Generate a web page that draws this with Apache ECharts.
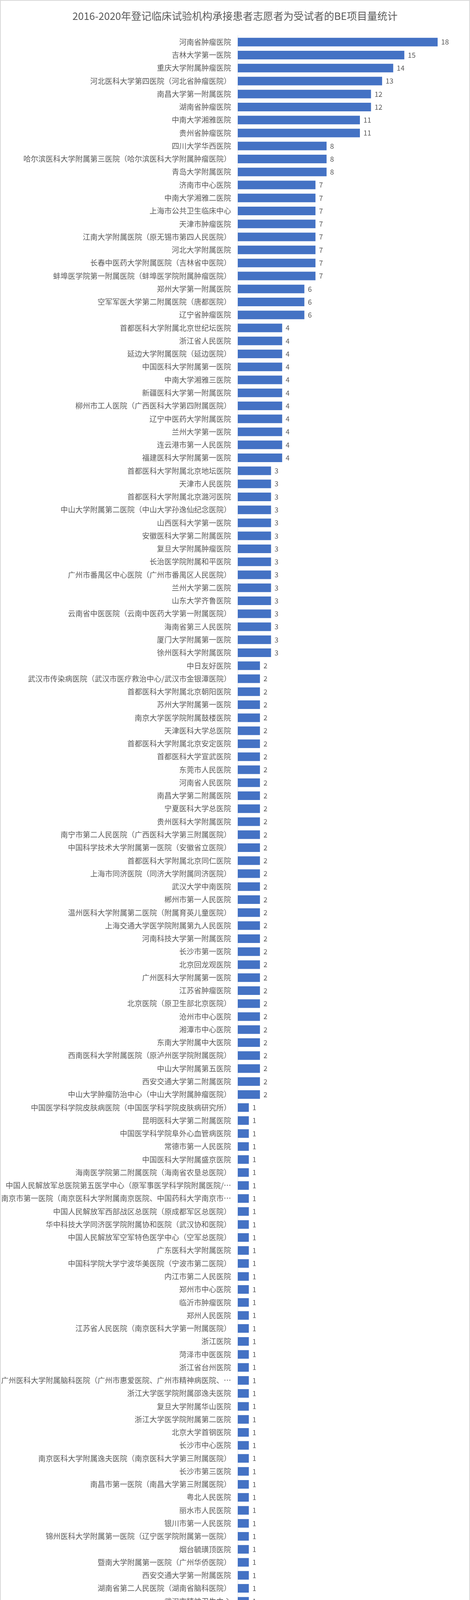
<!DOCTYPE html>
<html>
<head>
<meta charset="utf-8">
<script src="https://cdn.jsdelivr.net/npm/echarts@6/dist/echarts.min.js"></script>
<style>
html,body{margin:0;padding:0;background:#fff;}
#chart{width:1204px;height:6411px;}
</style>
</head>
<body>
<div id="chart"></div>
<script>
const titleText = '2016-2020年登记临床试验机构承接患者志愿者为受试者的BE项目量统计';

const categories = [
'河南省肿瘤医院','吉林大学第一医院','重庆大学附属肿瘤医院','河北医科大学第四医院（河北省肿瘤医院）','南昌大学第一附属医院',
'湖南省肿瘤医院','中南大学湘雅医院','贵州省肿瘤医院','四川大学华西医院','哈尔滨医科大学附属第三医院（哈尔滨医科大学附属肿瘤医院）',
'青岛大学附属医院','济南市中心医院','中南大学湘雅二医院','上海市公共卫生临床中心','天津市肿瘤医院',
'江南大学附属医院（原无锡市第四人民医院）','河北大学附属医院','长春中医药大学附属医院（吉林省中医院）','蚌埠医学院第一附属医院（蚌埠医学院附属肿瘤医院）','郑州大学第一附属医院',
'空军军医大学第二附属医院（唐都医院）','辽宁省肿瘤医院','首都医科大学附属北京世纪坛医院','浙江省人民医院','延边大学附属医院（延边医院）',
'中国医科大学附属第一医院','中南大学湘雅三医院','新疆医科大学第一附属医院','柳州市工人医院（广西医科大学第四附属医院）','辽宁中医药大学附属医院',
'兰州大学第一医院','连云港市第一人民医院','福建医科大学附属第一医院','首都医科大学附属北京地坛医院','天津市人民医院',
'首都医科大学附属北京潞河医院','中山大学附属第二医院（中山大学孙逸仙纪念医院）','山西医科大学第一医院','安徽医科大学第二附属医院','复旦大学附属肿瘤医院',
'长治医学院附属和平医院','广州市番禺区中心医院（广州市番禺区人民医院）','兰州大学第二医院','山东大学齐鲁医院','云南省中医医院（云南中医药大学第一附属医院）',
'海南省第三人民医院','厦门大学附属第一医院','徐州医科大学附属医院','中日友好医院','武汉市传染病医院（武汉市医疗救治中心/武汉市金银潭医院）',
'首都医科大学附属北京朝阳医院','苏州大学附属第一医院','南京大学医学院附属鼓楼医院','天津医科大学总医院','首都医科大学附属北京安定医院',
'首都医科大学宣武医院','东莞市人民医院','河南省人民医院','南昌大学第二附属医院','宁夏医科大学总医院',
'贵州医科大学附属医院','南宁市第二人民医院（广西医科大学第三附属医院）','中国科学技术大学附属第一医院（安徽省立医院）','首都医科大学附属北京同仁医院','上海市同济医院（同济大学附属同济医院）',
'武汉大学中南医院','郴州市第一人民医院','温州医科大学附属第二医院（附属育英儿童医院）','上海交通大学医学院附属第九人民医院','河南科技大学第一附属医院',
'长沙市第一医院','北京回龙观医院','广州医科大学附属第一医院','江苏省肿瘤医院','北京医院（原卫生部北京医院）',
'沧州市中心医院','湘潭市中心医院','东南大学附属中大医院','西南医科大学附属医院（原泸州医学院附属医院）','中山大学附属第五医院',
'西安交通大学第二附属医院','中山大学肿瘤防治中心（中山大学附属肿瘤医院）','中国医学科学院皮肤病医院（中国医学科学院皮肤病研究所）','昆明医科大学第二附属医院','中国医学科学院阜外心血管病医院',
'常德市第一人民医院','中国医科大学附属盛京医院','海南医学院第二附属医院（海南省农垦总医院）','中国人民解放军总医院第五医学中心（原军事医学科学院附属医院/…','南京市第一医院（南京医科大学附属南京医院、中国药科大学南京市…',
'中国人民解放军西部战区总医院（原成都军区总医院）','华中科技大学同济医学院附属协和医院（武汉协和医院）','中国人民解放军空军特色医学中心（空军总医院）','广东医科大学附属医院','中国科学院大学宁波华美医院（宁波市第二医院）',
'内江市第二人民医院','郑州市中心医院','临沂市肿瘤医院','郑州人民医院','江苏省人民医院（南京医科大学第一附属医院）',
'浙江医院','菏泽市中医医院','浙江省台州医院','广州医科大学附属脑科医院（广州市惠爱医院、广州市精神病医院、…','浙江大学医学院附属邵逸夫医院',
'复旦大学附属华山医院','浙江大学医学院附属第二医院','北京大学首钢医院','长沙市中心医院','南京医科大学附属逸夫医院（南京医科大学第三附属医院）',
'长沙市第三医院','南昌市第一医院（南昌大学第三附属医院）','粤北人民医院','丽水市人民医院','银川市第一人民医院',
'锦州医科大学附属第一医院（辽宁医学院附属第一医院）','烟台毓璜顶医院','暨南大学附属第一医院（广州华侨医院）','西安交通大学第一附属医院','湖南省第二人民医院（湖南省脑科医院）',
'武汉市精神卫生中心','河北医科大学第二医院','武汉大学人民医院（湖北省人民医院）','海军军医大学第一附属医院（上海长海医院）','无锡市人民医院',
'广州市红十字会医院','通化市中心医院','赣南医学院第一附属医院','天津医科大学第二医院','东营市人民医院/山东省立医院（集团）东营医院',
'天津市第一中心医院','北京肿瘤医院（北京大学肿瘤医院）','天津市安定医院','北京大学人民医院','泰州市人民医院',
'南宁市第一人民医院','台北荣民总医院','南京医科大学附属淮安第一医院','苏州大学附属第三医院（常州市第一人民医院）','南方医科大学南方医院',
'四川省人民医院','洛阳市中心医院','四川大学华西第二医院','聊城市人民医院','树兰（杭州）医院',
'昆明医科大学第一附属医院','首都医科大学附属北京佑安医院','空军军医大学（第四军医大学）西京医院','首都医科大学附属北京友谊医院','江苏省中西医结合医院',
'首都医科大学附属北京安贞医院','江苏大学附属医院（镇江市江滨医院）','上海长征医院','黄冈市中心医院','上海市杨浦区中心医院（同济大学附属杨浦医院）',
'华中科技大学同济医学院附属同济医院（武汉同济医院）','上海市胸科医院','衡阳华程医院','上海市同仁医院','河北中石油中心医院',
'上海市浦东新区公利医院','河北省人民医院','上海市东方医院（上海市浦东新区东方医院/同济大学附属东方医院）','海南省人民医院','上海交通大学医学院附属新华医院崇明分院',
'国防医学院三军总医院','上海交通大学医学院附属仁济医院','广州医科大学附属第二医院','山西医科大学第二医院','广西壮族自治区肿瘤医院（广西医科大学附属肿瘤医院）',
'山西省人民医院','广东省人民医院','山东省千佛山医院','复旦大学附属中山医院','山东省精神卫生中心',
'福建医科大学附属协和医院','北京大学第三医院','常州市第二人民医院','中山大学附属第一医院','沧州市人民医院',
'齐齐哈尔市第一医院','北京市房山区中医医院','内蒙古自治区人民医院','北京大学深圳医院','内蒙古医科大学附属医院',
'中国医学科学院血液病医院（中国医学科学院血液学研究所）','内蒙古包钢医院','清远市人民医院（广州医科大学附属第六医院）','青岛市市立医院'
];

const values = [
18,15,14,13,12,12,11,11,8,8,
8,7,7,7,7,7,7,7,7,6,
6,6,4,4,4,4,4,4,4,4,
4,4,4,3,3,3,3,3,3,3,
3,3,3,3,3,3,3,3,2,2,
2,2,2,2,2,2,2,2,2,2,
2,2,2,2,2,2,2,2,2,2,
2,2,2,2,2,2,2,2,2,2,
2,2,1,1,1,1,1,1,1,1,
1,1,1,1,1,1,1,1,1,1,
1,1,1,1,1,1,1,1,1,1,
1,1,1,1,1,1,1,1,1,1,
1,1,1,1,1,1,1,1,1,1,
1,1,1,1,1,1,1,1,1,1,
1,1,1,1,1,1,1,1,1,1,
1,1,1,1,1,1,1,1,1,1,
1,1,1,1,1,1,1,1,1,1,
1,1,1,1,1,1,1,1,1,1,
1,1,1,1,1,1,1,1,1
];

const FONT = '"Noto Sans CJK SC", "Noto Sans", sans-serif';
const chart = echarts.init(document.getElementById('chart'), null, {renderer: 'canvas'});
chart.setOption({
  animation: false,
  backgroundColor: '#ffffff',
  title: {
    text: titleText,
    left: 'center',
    top: 23,
    textStyle: {fontSize: 26, fontWeight: 'normal', color: '#595959', fontFamily: FONT}
  },
  graphic: [{
    type: 'rect',
    shape: {x: 1, y: 1, width: 1202, height: 6408},
    style: {fill: 'none', stroke: '#D9D9D9', lineWidth: 2},
    silent: true
  }],
  grid: {left: 598, right: 26, top: 91, bottom: 33, containLabel: false},
  xAxis: {
    type: 'value', min: 0, max: 20,
    axisLine: {show: false}, axisTick: {show: false},
    axisLabel: {show: false}, splitLine: {show: false}
  },
  yAxis: {
    type: 'category',
    data: categories,
    inverse: true,
    axisLine: {show: true, lineStyle: {color: '#D9D9D9', width: 1}},
    axisTick: {show: false},
    axisLabel: {interval: 0, fontSize: 19, color: '#595959', margin: 17, fontFamily: FONT}
  },
  series: [{
    type: 'bar',
    data: values,
    barWidth: 22,
    itemStyle: {color: '#4472C4'},
    label: {show: true, position: 'right', distance: 9, fontSize: 18, color: '#595959', fontFamily: FONT}
  }]
});
</script>
</body>
</html>
